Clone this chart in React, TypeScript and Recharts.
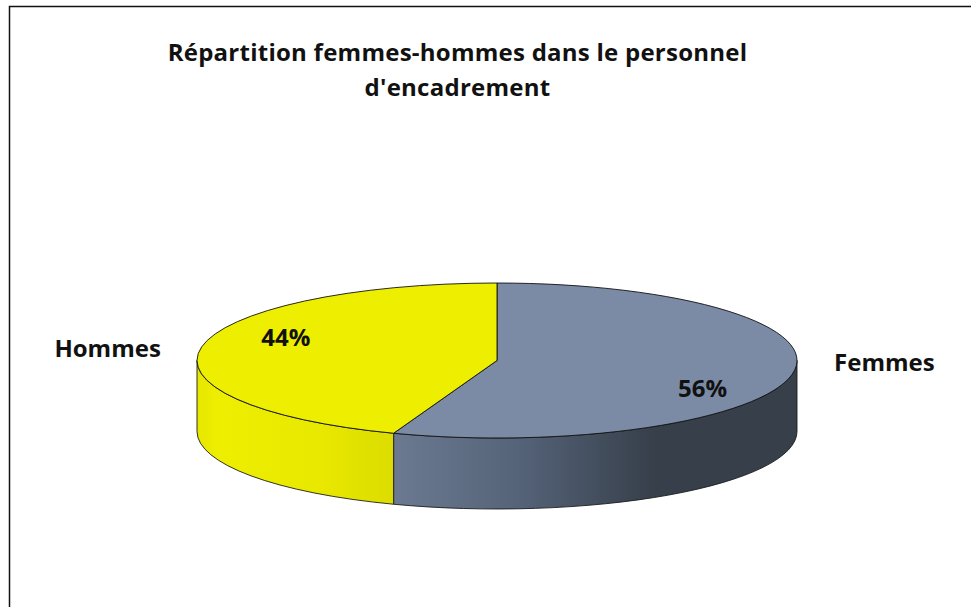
import React from "react";
import { PieChart, Pie, Cell } from "recharts";

const categories = ["Femmes", "Hommes"];
const shares = [55.6, 44.4];
const percentLabels = ["56%", "44%"];
const titleLines = ["Répartition femmes-hommes dans le personnel", "d'encadrement"];
const topColors = ["#7b8ba5", "#eeee00"];

const data = categories.map((name, i) => ({ name, value: shares[i], pct: percentLabels[i] }));

const CX = 497;
const CY = 360.5;
const RX = 300;
const SQUASH = 0.2583;
const DEPTH = 71;
const RAD = Math.PI / 180;
const FONT = "'Open Sans', sans-serif";

const pt = (cx: number, cy: number, rx: number, ry: number, a: number) => ({
  x: cx + rx * Math.cos(a * RAD),
  y: cy - ry * Math.sin(a * RAD),
});

function Slab(props: any) {
  const { cx, cy, outerRadius, startAngle, endAngle, index } = props;
  const rx = outerRadius;
  const ry = outerRadius * SQUASH;
  const a0 = pt(cx, cy, rx, ry, startAngle);
  const a1 = pt(cx, cy, rx, ry, endAngle);
  const large = Math.abs(endAngle - startAngle) > 180 ? 1 : 0;
  const top = `M${cx},${cy}L${a0.x},${a0.y}A${rx},${ry} 0 ${large} 1 ${a1.x},${a1.y}Z`;
  const wStart = Math.min(startAngle, 0);
  const wEnd = Math.max(endAngle, -180);
  let wall = null;
  if (wStart > wEnd) {
    const w0 = pt(cx, cy, rx, ry, wStart);
    const w1 = pt(cx, cy, rx, ry, wEnd);
    wall = `M${w0.x},${w0.y}A${rx},${ry} 0 0 1 ${w1.x},${w1.y}L${w1.x},${w1.y + DEPTH}A${rx},${ry} 0 0 0 ${w0.x},${w0.y + DEPTH}Z`;
  }
  return (
    <g>
      {wall && <path d={wall} fill={`url(#wall${index})`} stroke="#1c1c1c" strokeWidth={0.9} />}
      <path d={top} fill={topColors[index]} stroke="#111" strokeWidth={0.9} />
    </g>
  );
}

const pctPlace = [
  { fx: 0.696, dy: 18 },
  { fx: 0.715, dy: -14 },
];
const namePlace = [
  { dx: 92, dy: -13 },
  { dx: -94, dy: 1 },
];

function SliceLabel(props: any) {
  const { cx, cy, outerRadius, midAngle, index } = props;
  const edge = pt(cx, cy, outerRadius, outerRadius * SQUASH, midAngle);
  const px = cx + (edge.x - cx) * pctPlace[index].fx;
  const py = cy + (edge.y - cy) * pctPlace[index].fx + pctPlace[index].dy;
  const common = {
    textAnchor: "middle" as const,
    dominantBaseline: "central" as const,
    fontFamily: FONT,
    fontWeight: 700,
    fontSize: 24,
    fill: "#111",
  };
  return (
    <g>
      <text x={px} y={py} {...common}>{data[index].pct}</text>
      <text x={edge.x + namePlace[index].dx} y={edge.y + namePlace[index].dy} {...common}>{data[index].name}</text>
    </g>
  );
}

export default function App() {
  return (
    <div style={{ position: "absolute", left: 0, top: 0, width: 971, height: 607, background: "#fff" }}>
      <PieChart width={971} height={607} margin={{ top: 0, right: 0, bottom: 0, left: 0 }}>
        <defs>
          <linearGradient id="wall0" x1="0" y1="0" x2="1" y2="0">
            <stop offset="0" stopColor="#6b7a90" />
            <stop offset="0.3" stopColor="#56647a" />
            <stop offset="0.65" stopColor="#363f4a" />
            <stop offset="1" stopColor="#363f4a" />
          </linearGradient>
          <linearGradient id="wall1" x1="0" y1="0" x2="1" y2="0">
            <stop offset="0" stopColor="#e6e600" />
            <stop offset="0.1" stopColor="#eeee00" />
            <stop offset="0.6" stopColor="#e9e900" />
            <stop offset="1" stopColor="#dcdc00" />
          </linearGradient>
        </defs>
        <path d="M9.5,607V6.5H971" fill="none" stroke="#111" strokeWidth={1.5} />
        <text x={457.5} y={61} textAnchor="middle" fontFamily={FONT} fontWeight={700} fontSize={24} letterSpacing={0.25} fill="#111">{titleLines[0]}</text>
        <text x={457.5} y={96} textAnchor="middle" fontFamily={FONT} fontWeight={700} fontSize={24} letterSpacing={0.25} fill="#111">{titleLines[1]}</text>
        <Pie
          data={data}
          dataKey="value"
          nameKey="name"
          cx={CX}
          cy={CY}
          outerRadius={RX}
          innerRadius={0}
          startAngle={90}
          endAngle={-270}
          paddingAngle={0}
          isAnimationActive={false}
          shape={Slab}
          label={SliceLabel}
          labelLine={false}
          stroke="none"
        >
          {data.map((d, i) => (
            <Cell key={d.name} fill={topColors[i]} />
          ))}
        </Pie>
      </PieChart>
    </div>
  );
}
